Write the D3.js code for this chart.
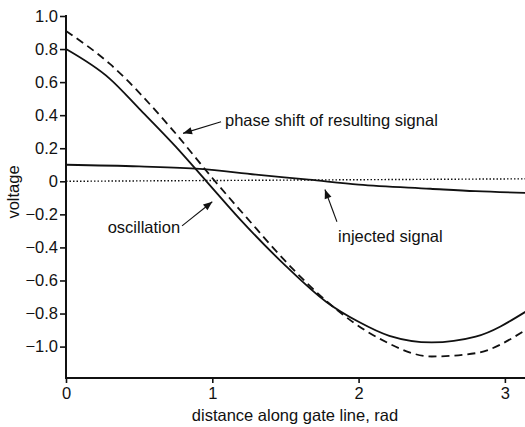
<!DOCTYPE html>
<html>
<head>
<meta charset="utf-8">
<script src="https://cdn.jsdelivr.net/npm/d3@7"></script>
<style>
  body { margin: 0; background: #fff; }
  text { font-family: "Liberation Sans", Arial, Helvetica, sans-serif; fill: #111; }
</style>
</head>
<body>
<div id="chart"></div>
<script>
// values
var oscX = [0, 0.3, 0.5, 0.75, 0.96, 1.19, 1.5, 1.78, 2.0, 2.21, 2.5, 2.8, 3.14];
var oscY = [0.80, 0.62, 0.44, 0.21, 0.0, -0.23, -0.51, -0.73, -0.85, -0.935, -0.975, -0.94, -0.79];

var shiftX = [0, 0.3, 0.71, 1.0, 1.235, 1.55, 1.78, 2.15, 2.5, 2.8, 3.14];
var shiftY = [0.91, 0.71, 0.33, 0.02, -0.22, -0.53, -0.725, -0.955, -1.06, -1.04, -0.90];

var injX = [0, 0.5, 0.915, 1.3, 1.66, 2.0, 2.49, 2.8, 3.14];
var injY = [0.10, 0.09, 0.075, 0.04, 0.01, -0.02, -0.045, -0.06, -0.07];

var refX = [0, 3.14];
var refY = [0, 0.015];

var xTicks = [0, 1, 2, 3];
var yTicks = [1.0, 0.8, 0.6, 0.4, 0.2, 0, -0.2, -0.4, -0.6, -0.8, -1.0];

// labels: [text, x, y, anchor], arrows: [x1, y1, x2, y2] in data units
var notes = [
  ["phase shift of resulting signal", 1.087, 0.335, "start"],
  ["oscillation", 0.78, -0.31, "end"],
  ["injected signal", 1.86, -0.366, "start"]
];
var arrows = [
  [1.06, 0.36, 0.80, 0.29],
  [0.793, -0.27, 1.0, -0.124],
  [1.852, -0.245, 1.77, -0.05]
];

var width = 525, height = 427;
var svg = d3.select("#chart").append("svg")
  .attr("width", width).attr("height", height);

var x = d3.scaleLinear().domain([0, Math.PI]).range([66, 525.6]);
var y = d3.scaleLinear().domain([-1.19, 1.0]).range([378, 16]);

svg.append("defs").append("marker")
  .attr("id", "head")
  .attr("viewBox", "0 -5 10 10")
  .attr("refX", 10).attr("refY", 0)
  .attr("orient", "auto")
  .attr("markerUnits", "userSpaceOnUse")
  .attr("markerWidth", 12).attr("markerHeight", 9)
  .append("path")
  .attr("d", "M0,-4L10,0L0,4Z")
  .attr("fill", "#111");

function zip(xs, ys) {
  return xs.map(function(v, i) { return [v, ys[i]]; });
}

var line = d3.line()
  .x(function(d) { return x(d[0]); })
  .y(function(d) { return y(d[1]); })
  .curve(d3.curveMonotoneX);

var plot = svg.append("g");
plot.append("path").datum(zip(refX, refY))
  .attr("d", line).attr("fill", "none")
  .attr("stroke", "#111").attr("stroke-width", 1.4)
  .attr("stroke-dasharray", "1.5,2");
plot.append("path").datum(zip(injX, injY))
  .attr("d", line).attr("fill", "none")
  .attr("stroke", "#111").attr("stroke-width", 1.8);
plot.append("path").datum(zip(oscX, oscY))
  .attr("d", line).attr("fill", "none")
  .attr("stroke", "#111").attr("stroke-width", 1.8);
plot.append("path").datum(zip(shiftX, shiftY))
  .attr("d", line).attr("fill", "none")
  .attr("stroke", "#111").attr("stroke-width", 1.8)
  .attr("stroke-dasharray", "8,5");

// axes
var yAxis = svg.append("g")
  .attr("transform", "translate(66,0)")
  .call(d3.axisLeft(y).tickValues(yTicks).tickSize(6).tickPadding(2)
    .tickFormat(function(d) { return d === 0 ? "0" : d3.format(".1f")(d).replace("-", "\u2212"); }));
yAxis.select(".domain").remove();
svg.append("line")
  .attr("x1", 66).attr("x2", 66).attr("y1", 15).attr("y2", 378)
  .attr("stroke", "#111").attr("stroke-width", 2);

var xAxis = svg.append("g")
  .attr("transform", "translate(0,378)")
  .call(d3.axisBottom(x).tickValues(xTicks).tickSize(5).tickPadding(4)
    .tickFormat(d3.format("d")));
xAxis.select(".domain").remove();
svg.append("line")
  .attr("x1", 65).attr("x2", 525).attr("y1", 378).attr("y2", 378)
  .attr("stroke", "#111").attr("stroke-width", 2);

svg.selectAll(".tick line").attr("stroke", "#111").attr("stroke-width", 1.6);
svg.selectAll(".tick text")
  .style("font-size", "16.5px")
  .style("font-family", "'Liberation Sans', Arial, sans-serif")
  .attr("fill", "#111");

svg.append("text")
  .attr("x", 295).attr("y", 421)
  .attr("text-anchor", "middle")
  .style("font-size", "16.5px")
  .text("distance along gate line, rad");

svg.append("text")
  .attr("transform", "translate(19,192) rotate(-90)")
  .attr("text-anchor", "middle")
  .style("font-size", "16.5px")
  .text("voltage");

// annotations
svg.selectAll(".note").data(notes).enter().append("text")
  .attr("class", "note")
  .attr("x", function(d) { return x(d[1]); })
  .attr("y", function(d) { return y(d[2]); })
  .attr("text-anchor", function(d) { return d[3]; })
  .style("font-size", "16.5px")
  .text(function(d) { return d[0]; });

svg.selectAll(".arrow").data(arrows).enter().append("line")
  .attr("class", "arrow")
  .attr("x1", function(d) { return x(d[0]); })
  .attr("y1", function(d) { return y(d[1]); })
  .attr("x2", function(d) { return x(d[2]); })
  .attr("y2", function(d) { return y(d[3]); })
  .attr("stroke", "#111").attr("stroke-width", 1.1)
  .attr("marker-end", "url(#head)");
</script>
</body>
</html>
